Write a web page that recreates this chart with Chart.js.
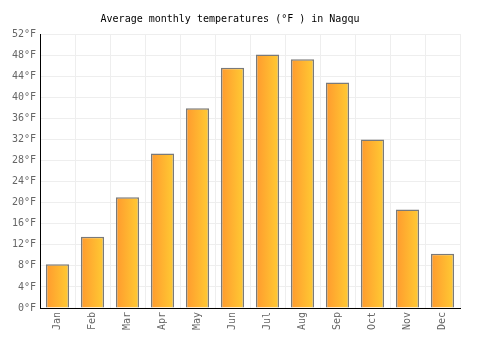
<!DOCTYPE html>
<html>
<head>
<meta charset="utf-8">
<script src="https://cdn.jsdelivr.net/npm/chart.js@4/dist/chart.umd.min.js"></script>
<style>
  html, body { margin: 0; padding: 0; background: #fff; }
  #wrap { width: 500px; height: 350px; }
</style>
</head>
<body>
<div id="wrap"><canvas id="tempChart" width="500" height="350"></canvas></div>
<script>
  const months = ["Jan", "Feb", "Mar", "Apr", "May", "Jun", "Jul", "Aug", "Sep", "Oct", "Nov", "Dec"];
  const tempsF = [8.3, 13.5, 21.0, 29.3, 37.9, 45.6, 48.1, 47.2, 42.8, 32.0, 18.7, 10.3];
  const yTicks = [0, 4, 8, 12, 16, 20, 24, 28, 32, 36, 40, 44, 48, 52];

  const FONT = "'DejaVu Sans Mono', monospace";

  // horizontal orange -> yellow gradient per bar
  function barGradient(context) {
    const chart = context.chart;
    const xScale = chart.scales.x;
    if (!xScale || !chart.chartArea) return "#ffad33";
    const cx = xScale.getPixelForValue(context.dataIndex);
    const half = (xScale.width / months.length) * 0.33;
    const g = chart.ctx.createLinearGradient(cx - half, 0, cx + half, 0);
    g.addColorStop(0, "#ff9a2e");
    g.addColorStop(1, "#ffcb33");
    return g;
  }

  new Chart(document.getElementById("tempChart"), {
    type: "bar",
    data: {
      labels: months,
      datasets: [
        {
          data: tempsF,
          backgroundColor: barGradient,
          borderColor: "#7a7a7a",
          borderWidth: 1.5,
          barPercentage: 0.66,
          categoryPercentage: 1,
        },
      ],
    },
    options: {
      responsive: false,
      animation: false,
      layout: { padding: { left: 0, right: 40, top: 0, bottom: 0 } },
      plugins: {
        legend: { display: false },
        tooltip: { enabled: false },
        title: {
          display: true,
          text: "Average monthly temperatures (°F ) in Nagqu",
          color: "#000",
          font: { family: FONT, size: 10, weight: "normal" },
          padding: { top: 13, bottom: 9 },
        },
      },
      scales: {
        y: {
          min: 0,
          max: 52,
          afterBuildTicks: function (scale) {
            scale.ticks = yTicks.map((v) => ({ value: v }));
          },
          afterFit: function (scale) {
            scale.width = 40;
          },
          ticks: {
            color: "#666",
            font: { family: FONT, size: 10 },
            padding: 4,
            callback: function (value) {
              return value + "°F";
            },
          },
          grid: {
            color: "#eeeeee",
            drawTicks: false,
          },
          border: { display: true, color: "#000", width: 1 },
        },
        x: {
          afterFit: function (scale) {
            scale.height = 42;
          },
          ticks: {
            color: "#666",
            font: { family: FONT, size: 10 },
            maxRotation: 90,
            minRotation: 90,
            padding: 4,
          },
          grid: {
            color: "#eeeeee",
            drawTicks: false,
          },
          border: { display: true, color: "#000", width: 1 },
        },
      },
    },
  });
</script>
</body>
</html>
